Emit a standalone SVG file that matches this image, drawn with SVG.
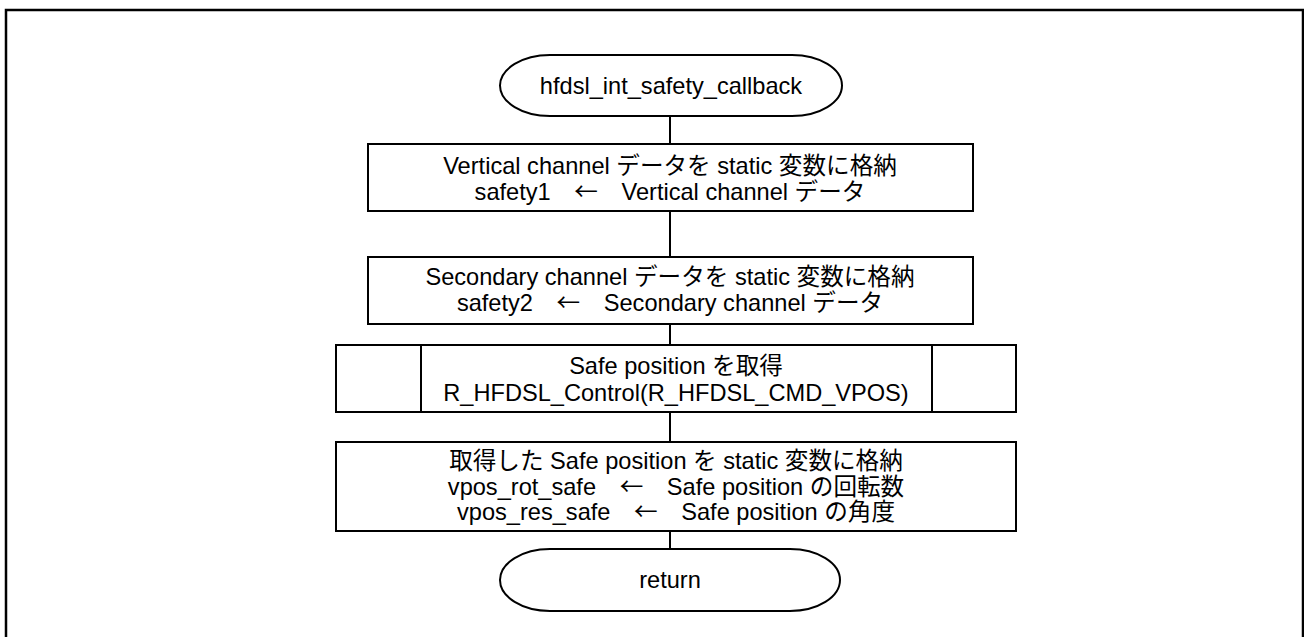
<svg xmlns="http://www.w3.org/2000/svg" width="1304" height="637" viewBox="0 0 1304 637">
<style>
.s{fill:#fff;stroke:#000;stroke-width:2}
.c{stroke:#000;stroke-width:2;fill:none}
text{font-family:"Liberation Sans","Noto Sans CJK JP",sans-serif;font-size:23.6px;fill:#000;text-anchor:middle}
.a{font-family:"Noto Sans CJK JP",sans-serif}
</style>
<rect x="6" y="10" width="1297" height="700" fill="#fff" stroke="#000" stroke-width="2.5"/>
<g id="connectors">
<line class="c" x1="670" y1="116" x2="670" y2="144"/>
<line class="c" x1="670" y1="211" x2="670" y2="257"/>
<line class="c" x1="670" y1="324" x2="670" y2="345"/>
<line class="c" x1="670" y1="412" x2="670" y2="442"/>
<line class="c" x1="670" y1="531" x2="670" y2="549"/>
</g>
<g id="start">
<rect class="s" x="500" y="55" width="342" height="61" rx="50" ry="30.5"/>
<text x="671" y="94">hfdsl_int_safety_callback</text>
</g>
<g id="box1">
<rect class="s" x="368" y="144" width="605" height="67"/>
<text x="670" y="174">Vertical channel データを static 変数に格納</text>
<text x="670" y="200">safety1<tspan class="a">　←　</tspan>Vertical channel データ</text>
</g>
<g id="box2">
<rect class="s" x="368" y="257" width="605" height="67"/>
<text x="670" y="285">Secondary channel データを static 変数に格納</text>
<text x="670" y="311">safety2<tspan class="a">　←　</tspan>Secondary channel データ</text>
</g>
<g id="sub">
<rect class="s" x="336" y="345" width="680" height="67"/>
<line class="c" x1="421" y1="345" x2="421" y2="412"/>
<line class="c" x1="932" y1="345" x2="932" y2="412"/>
<text x="676" y="374">Safe position を取得</text>
<text x="676" y="401">R_HFDSL_Control(R_HFDSL_CMD_VPOS)</text>
</g>
<g id="box4">
<rect class="s" x="336" y="442" width="680" height="89"/>
<text x="676" y="469">取得した Safe position を static 変数に格納</text>
<text x="676" y="495">vpos_rot_safe<tspan class="a">　←　</tspan>Safe position の回転数</text>
<text x="676" y="520">vpos_res_safe<tspan class="a">　←　</tspan>Safe position の角度</text>
</g>
<g id="return">
<rect class="s" x="500" y="549" width="340" height="62" rx="50" ry="31"/>
<text x="670" y="588">return</text>
</g>
</svg>
